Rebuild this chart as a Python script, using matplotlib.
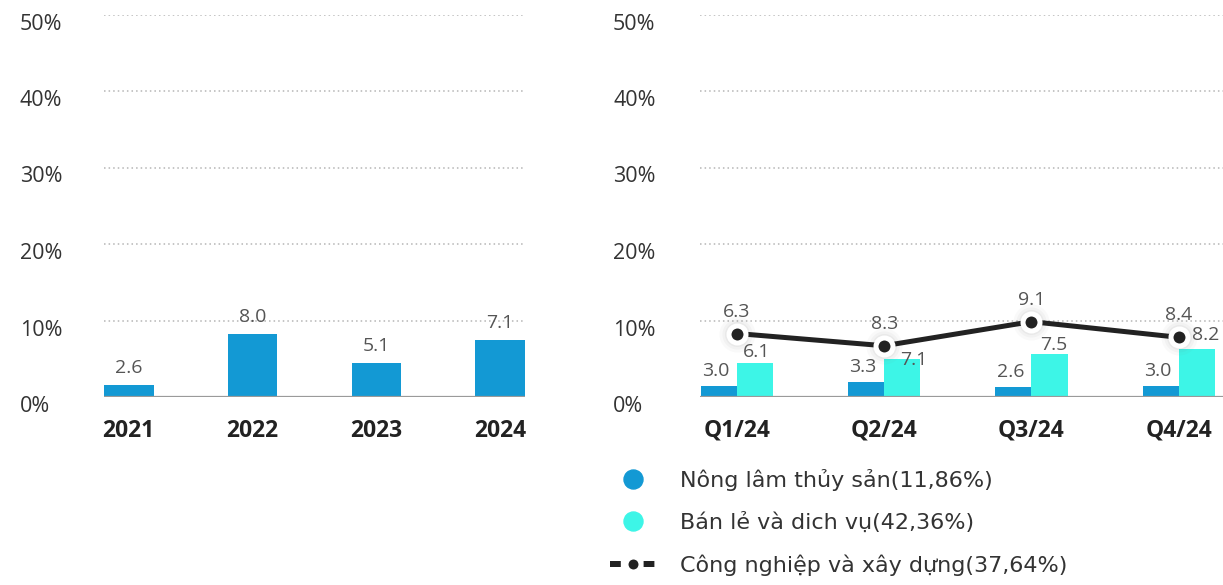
#!/usr/bin/env python3
"""Growth by year and by quarter, two panels side by side."""

import matplotlib.pyplot as plt
from matplotlib.lines import Line2D
from matplotlib.transforms import ScaledTranslation
import numpy as np

# data
years = ["2021", "2022", "2023", "2024"]
year_values = [1.6, 8.2, 4.5, 7.4]          # drawn bar heights (%)
year_labels = ["2.6", "8.0", "5.1", "7.1"]  # numbers printed above bars

quarters = ["Q1/24", "Q2/24", "Q3/24", "Q4/24"]
agri_values = [1.5, 1.9, 1.35, 1.5]
agri_labels = ["3.0", "3.3", "2.6", "3.0"]
retail_values = [4.5, 5.0, 5.65, 6.3]
retail_labels = ["6.1", "7.1", "7.5", "8.2"]
industry_values = [8.3, 6.7, 9.85, 7.8]
industry_labels = ["6.3", "8.3", "9.1", "8.4"]

series_names = [
    "Nông lâm thủy sản(11,86%)",
    "Bán lẻ và dich vụ(42,36%)",
    "Công nghiệp và xây dựng(37,64%)",
]

BLUE = "#1399D4"
CYAN = "#3DF5E7"
DARK = "#222222"
W, H = 1223, 585
PX = 72 / 100  # points per pixel at dpi 100

plt.rcParams["font.family"] = ["Open Sans", "DejaVu Sans"]

fig = plt.figure(figsize=(W / 100, H / 100), dpi=100)
ax1 = fig.add_axes([104 / W, (H - 397) / H, 421 / W, 382.5 / H])
ax2 = fig.add_axes([700 / W, (H - 397) / H, 540 / W, 382.5 / H])


def style_axis(ax, pad_px):
    ax.set_ylim(0, 50)
    ax.set_yticks([0, 10, 20, 30, 40, 50])
    ax.set_yticklabels([f"{v}%" for v in range(0, 60, 10)])
    ax.tick_params(axis="y", length=0, pad=pad_px * PX, labelsize=15.5,
                   labelcolor="#333333")
    ax.tick_params(axis="x", length=0, pad=22 * PX, labelsize=16.5,
                   labelcolor=DARK)
    shift = ScaledTranslation(0, -7 / 100, fig.dpi_scale_trans)
    for lab in ax.get_yticklabels():
        lab.set_horizontalalignment("left")
        lab.set_transform(lab.get_transform() + shift)
    for lab in ax.get_xticklabels():
        lab.set_fontweight("bold")
    for sp in ax.spines.values():
        sp.set_visible(False)
    ax.grid(axis="y", ls=(0, (1, 2)), color="#b5b5b5", lw=1.1)
    ax.set_axisbelow(True)
    ax.axhline(0, color="#9a9a9a", lw=1.6, zorder=4)


label_kw = dict(textcoords="offset points", ha="center", va="bottom",
                fontsize=14, color="#555555")

# left panel: yearly bars
x1 = np.arange(len(years))
ax1.bar(x1, year_values, width=0.4, color=BLUE, zorder=3)
ax1.set_xlim(-0.2, 3.2)
ax1.set_xticks(x1)
ax1.set_xticklabels(years)
style_axis(ax1, 84)
for xi, v, lab in zip(x1, year_values, year_labels):
    ax1.annotate(lab, (xi, v), xytext=(0, 8 * PX), **label_kw)

# right panel: quarterly bars plus line
x2 = np.arange(len(quarters))
bw = 0.245
ax2.bar(x2 - bw / 2, agri_values, width=bw, color=BLUE, zorder=3)
ax2.bar(x2 + bw / 2, retail_values, width=bw, color=CYAN, zorder=3)
ax2.set_xlim(-0.25, -0.25 + 540 / 147.3)
ax2.set_xticks(x2)
ax2.set_xticklabels(quarters)
style_axis(ax2, 87)

# soft halo behind markers
for ms, a in [(36, 0.04), (30, 0.05), (25, 0.07)]:
    ax2.plot(x2, industry_values, "o", ms=ms * PX, color="#777777",
             alpha=a, mec="none", zorder=5)
ax2.plot(x2, industry_values, color=DARK, lw=5 * PX, zorder=6,
         solid_capstyle="round")
ax2.plot(x2, industry_values, "o", ms=17 * PX, color=DARK, mec="white",
         mew=5 * PX, zorder=7)

for xi, v, lab in zip(x2, agri_values, agri_labels):
    ax2.annotate(lab, (xi - bw / 2, v), xytext=(-3 * PX, 6 * PX), **label_kw)
retail_offsets = [(2, 2), (12, -10), (4, 0), (9, 5)]
for xi, v, lab, (dx, dy) in zip(x2, retail_values, retail_labels, retail_offsets):
    ax2.annotate(lab, (xi + bw / 2, v), xytext=(dx * PX, dy * PX), **label_kw)
for xi, v, lab in zip(x2, industry_values, industry_labels):
    ax2.annotate(lab, (xi, v), xytext=(0, 13 * PX), zorder=8, **label_kw)

# legend
handles = [
    Line2D([], [], ls="none", marker="o", ms=19 * PX, color=BLUE),
    Line2D([], [], ls="none", marker="o", ms=19 * PX, color=CYAN),
    Line2D([], [], color=DARK, lw=6 * PX, ls=(0, (1.8, 1.0)), marker="o",
           ms=14 * PX, mfc=DARK, mec="white", mew=4 * PX),
]
fig.legend(handles, series_names, loc="upper left",
           bbox_to_anchor=(610 / W, 1 - 469 / H), frameon=False,
           prop={"family": "DejaVu Sans", "size": 16}, labelcolor="#333333",
           handlelength=2.05, handletextpad=1.1, labelspacing=0.95,
           borderpad=0, borderaxespad=0)

fig.savefig("out.png", dpi=100)
